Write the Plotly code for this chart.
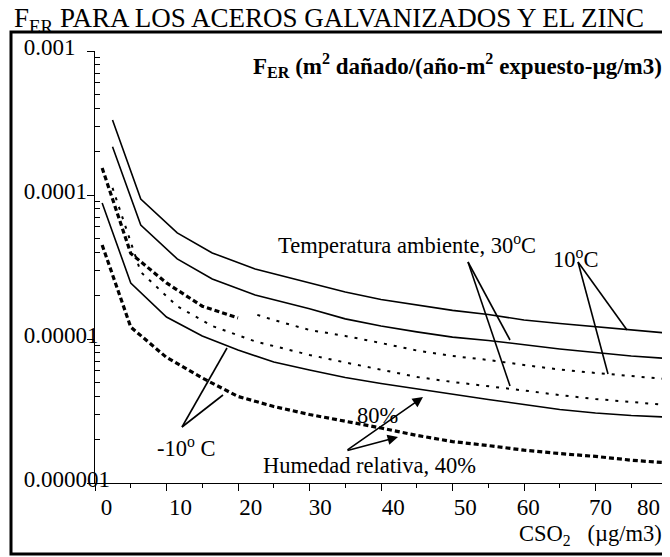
import plotly.graph_objects as go

# ---------------- data ----------------
x_upper = [2.45, 6.4, 11.5, 16.4, 22.4, 30, 35, 40, 45, 50, 55, 60, 65, 70, 75, 80]
t10_rh80 = [3.32e-4, 9.38e-5, 5.45e-5, 3.96e-5, 3.06e-5, 2.45e-5, 2.12e-5, 1.88e-5,
            1.72e-5, 1.58e-5, 1.48e-5, 1.355e-5, 1.28e-5, 1.22e-5, 1.155e-5, 1.10e-5]
t30_rh80 = [2.16e-4, 6.19e-5, 3.60e-5, 2.61e-5, 2.02e-5, 1.62e-5, 1.38e-5, 1.23e-5,
            1.12e-5, 1.03e-5, 9.77e-6, 9.09e-6, 8.53e-6, 8.06e-6, 7.62e-6, 7.32e-6]
t30_rh40 = [1.12e-4, 2.92e-5, 1.69e-5, 1.23e-5, 9.62e-6, 7.75e-6, 6.87e-6, 6.09e-6,
            5.45e-6, 5.03e-6, 4.72e-6, 4.39e-6, 4.08e-6, 3.83e-6, 3.65e-6, 3.48e-6]

x_lower = [1, 5, 10, 15, 20, 25, 30, 35, 40, 45, 50, 55, 60, 65, 70, 75, 80]
tm10_rh80 = [8.80e-5, 2.45e-5, 1.42e-5, 1.05e-5, 8.39e-6, 6.92e-6, 6.09e-6, 5.41e-6, 4.91e-6,
             4.50e-6, 4.15e-6, 3.80e-6, 3.51e-6, 3.24e-6, 3.06e-6, 2.94e-6, 2.87e-6]
tm10_rh40 = [4.50e-5, 1.21e-5, 7.45e-6, 5.36e-6, 3.99e-6, 3.40e-6, 2.99e-6, 2.70e-6, 2.41e-6,
             2.14e-6, 1.94e-6, 1.82e-6, 1.69e-6, 1.60e-6, 1.53e-6, 1.44e-6, 1.38e-6]

x_t10_rh40_a = [1, 5, 10, 15, 20]
t10_rh40_a = [1.54e-4, 3.93e-5, 2.45e-5, 1.69e-5, 1.40e-5]
x_t10_rh40_b = [22.7, 25, 30, 35, 40, 45, 50, 55, 60, 65, 70, 75, 80]
t10_rh40_b = [1.47e-5, 1.355e-5, 1.155e-5, 1.05e-5, 9.38e-6, 8.32e-6, 7.62e-6,
              7.15e-6, 6.60e-6, 6.14e-6, 5.81e-6, 5.54e-6, 5.27e-6]

x_ticks = [0, 10, 20, 30, 40, 50, 60, 70, 80]
x_minor = [5, 15, 25, 35, 45, 55, 65, 75]
x_tick_labels = ["0", "10", "20", "30", "40", "50", "60", "70", "80"]
x_label_pos = [1.6, 11.95, 21.8, 31.5, 41.7, 51.8, 60.6, 70.7, 77.4]

y_ticks = [1e-6, 1e-5, 1e-4, 1e-3]
y_tick_labels = ["0.000001", "0.00001", "0.0001", "0.001"]

FONT = "Liberation Serif"
W, H = 670, 557
OFF = 8                     # page body margin
PX0, PY0, PW, PH = 95, 483, 572, 432   # plot area in page pixels
ML = PX0 - OFF
MT = PY0 - PH - OFF
MR = W - ML - PW
MB = H - MT - PH


def fx(px):
    return (px - PX0) / PW


def fy(py):
    return (PY0 - py) / PH


def padded(lbl):
    pad = 8 - len(lbl)
    if pad <= 0:
        return lbl
    return lbl + '<span style="color:rgba(0,0,0,0)">' + "0" * pad + "</span>"


fig = go.Figure()
solid = dict(color="black", width=1.6)
thin_dot = dict(color="black", width=2, dash="3px,7px")
thick_dot = dict(color="black", width=3.2, dash="5px,3px")

fig.add_trace(go.Scatter(x=x_upper, y=t10_rh80, mode="lines", line=solid))
fig.add_trace(go.Scatter(x=x_upper, y=t30_rh80, mode="lines", line=solid))
fig.add_trace(go.Scatter(x=x_upper, y=t30_rh40, mode="lines", line=thin_dot))
fig.add_trace(go.Scatter(x=x_t10_rh40_a, y=t10_rh40_a, mode="lines", line=thick_dot))
fig.add_trace(go.Scatter(x=x_t10_rh40_b, y=t10_rh40_b, mode="lines", line=thin_dot))
fig.add_trace(go.Scatter(x=x_lower, y=tm10_rh80, mode="lines", line=solid))
fig.add_trace(go.Scatter(x=x_lower, y=tm10_rh40, mode="lines", line=thick_dot))
# invisible helper so the label-only axes are drawn
fig.add_trace(go.Scatter(x=[40], y=[1e-5], xaxis="x2", yaxis="y2", mode="markers",
                         marker=dict(opacity=0), hoverinfo="skip"))

fig.update_layout(
    width=W, height=H, showlegend=False,
    margin=dict(l=ML, r=MR, t=MT, b=MB),
    paper_bgcolor="white", plot_bgcolor="white",
    font=dict(family=FONT, color="black", size=22),
    xaxis=dict(range=[0, 80], showgrid=False, zeroline=False, showline=True,
               linecolor="black", linewidth=1.3, ticks="outside", tickvals=x_ticks,
               ticklen=7, tickwidth=1.2, tickcolor="black", showticklabels=False,
               minor=dict(tickvals=x_minor, ticks="outside", ticklen=4, tickwidth=1.2,
                          tickcolor="black")),
    xaxis2=dict(range=[0, 80], overlaying="x", anchor="y", side="bottom",
                showgrid=False, zeroline=False, showline=False, tickvals=x_label_pos,
                ticktext=x_tick_labels, ticks="outside", ticklen=3,
                tickcolor="rgba(0,0,0,0)", tickfont=dict(size=23, family=FONT)),
    yaxis=dict(type="log", range=[-6, -3], showgrid=False, zeroline=False, showline=True,
               linecolor="black", linewidth=1.3, ticks="outside", tickvals=y_ticks,
               ticklen=7, tickwidth=1.2, tickcolor="black", showticklabels=False,
               minor=dict(tickvals=[m * 10 ** e for e in (-6, -5, -4) for m in range(2, 10)],
                          ticks="inside", ticklen=5, tickwidth=1.2, tickcolor="black")),
    yaxis2=dict(type="log", range=[-6, -3], overlaying="y", anchor="free",
                position=fx(110), side="left", showgrid=False, zeroline=False,
                showline=False, tickvals=y_ticks,
                ticktext=[padded(t) for t in y_tick_labels], ticks="",
                ticklabelshift=-4, tickfont=dict(size=23, family=FONT)),
)

# outer frame
fig.add_shape(type="rect", xref="paper", yref="paper",
              x0=fx(11), x1=fx(669), y0=fy(554), y1=fy(32),
              line=dict(color="black", width=3), layer="below")

# leader lines
leaders = [((468, 262), (510, 340)), ((468, 262), (510, 386)),
           ((578, 262), (627, 330)), ((578, 262), (608, 374)),
           ((182, 427), (227, 348)), ((182, 427), (223, 395))]
for (p0, p1) in leaders:
    fig.add_shape(type="line", xref="paper", yref="paper",
                  x0=fx(p0[0]), y0=fy(p0[1]), x1=fx(p1[0]), y1=fy(p1[1]),
                  line=dict(color="black", width=1.6))

# arrows for relative humidity
tail = (346, 451)
for tip in [(423, 397), (398, 437)]:
    fig.add_annotation(x=fx(tip[0]), y=fy(tip[1]), xref="paper", yref="paper",
                       axref="pixel", ayref="pixel",
                       ax=tail[0] - tip[0], ay=tail[1] - tip[1], text="",
                       showarrow=True, arrowhead=2, arrowsize=1.3, arrowwidth=1.6,
                       arrowcolor="black", standoff=0)


def label(txt, px, py, size=22, anchor="left", bold=False):
    if bold:
        txt = "<b>" + txt + "</b>"
    fig.add_annotation(text=txt, x=fx(px), y=fy(py), xref="paper", yref="paper",
                       xanchor=anchor, yanchor="middle", showarrow=False,
                       font=dict(size=size, family=FONT, color="black"))


label("F<sub>ER</sub> PARA LOS ACEROS GALVANIZADOS Y EL ZINC", 12, 20, size=27)
label("F<sub>ER</sub> (m<sup>2</sup> dañado/(año-m<sup>2</sup> expuesto-µg/m3)",
      664, 65, size=23, anchor="right", bold=True)
label("Temperatura ambiente, 30<sup>o</sup>C", 276, 244, size=22.5)
label("10<sup>o</sup>C", 551, 258, size=22.5)
label("-10<sup>o</sup> C", 155, 447, size=22.5)
label("80%", 355, 415, size=22.5)
label("Humedad relativa, 40%", 261, 465, size=22.5)
label("CSO<sub>2</sub>   (µg/m3)", 664, 535, size=22.5, anchor="right")

fig.write_html("out.html")
